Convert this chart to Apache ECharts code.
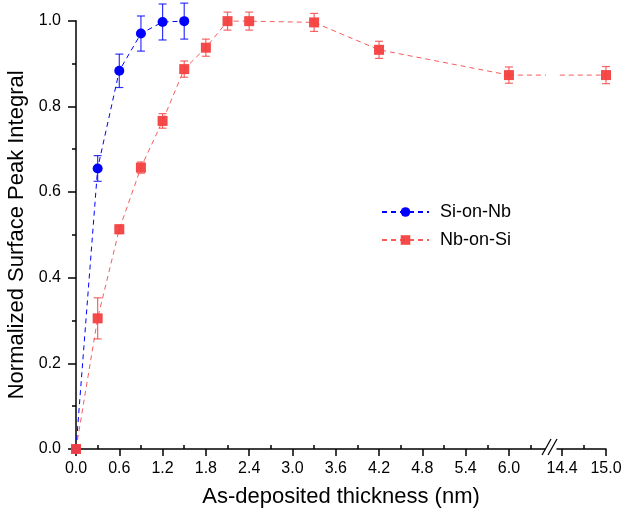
<!DOCTYPE html>
<html>
<head>
<meta charset="utf-8">
<script src="https://cdn.jsdelivr.net/npm/echarts@6/dist/echarts.min.js"></script>
<style>
  html, body { margin: 0; padding: 0; background: #fff; }
  #chart { width: 625px; height: 514px; }
</style>
</head>
<body>
<div id="chart"></div>
<script>
// Si-on-Nb (blue circles)
const thicknessSiOnNb = [0, 0.3, 0.6, 0.9, 1.2, 1.5];
const integralSiOnNb = [0, 0.655, 0.883, 0.970, 0.997, 0.999];
const errorSiOnNb = [0, 0.030, 0.039, 0.041, 0.042, 0.042];

// Nb-on-Si (red squares)
const thicknessNbOnSi = [0, 0.3, 0.6, 0.9, 1.2, 1.5, 1.8, 2.1, 2.4, 3.3, 4.2, 6.0, 15.0];
const integralNbOnSi = [0, 0.305, 0.513, 0.657, 0.766, 0.887, 0.937, 0.999, 0.999, 0.996, 0.932, 0.873, 0.873];
const errorNbOnSi = [0, 0.048, 0.010, 0.013, 0.017, 0.019, 0.020, 0.021, 0.021, 0.021, 0.020, 0.019, 0.020];

// axis ticks
const leftMajorTicks = [0, 0.6, 1.2, 1.8, 2.4, 3.0, 3.6, 4.2, 4.8, 5.4, 6.0];
const leftMinorTicks = [0.3, 0.9, 1.5, 2.1, 2.7, 3.3, 3.9, 4.5, 5.1, 5.7, 6.3];
const rightMajorTicks = [14.4, 15.0];
const rightMinorTicks = [14.7];

const BLUE = '#0000ff';
const RED = '#f44040';
const FONT = 'Liberation Sans, Arial, sans-serif';
const BREAK_AT = 6.5;   // left segment ends here
const RESUME_AT = 14.33; // right segment starts here

const pairs = (xs, ys) => xs.map((x, i) => [x, ys[i]]);
const errPairs = (xs, ys, es) => xs
  .map((x, i) => [x, ys[i] - es[i], ys[i] + es[i]])
  .filter((d, i) => es[i] > 0);

const siPoints = pairs(thicknessSiOnNb, integralSiOnNb);
const nbPoints = pairs(thicknessNbOnSi, integralNbOnSi);
const siErrors = errPairs(thicknessSiOnNb, integralSiOnNb, errorSiOnNb);
const nbErrors = errPairs(thicknessNbOnSi, integralNbOnSi, errorNbOnSi);
const nbLeft = nbPoints.filter((p) => p[0] <= BREAK_AT);
const nbRight = nbPoints.filter((p) => p[0] >= RESUME_AT);
const nbLeftErr = nbErrors.filter((p) => p[0] <= BREAK_AT);
const nbRightErr = nbErrors.filter((p) => p[0] >= RESUME_AT);
// segment crossing the axis break (last point left of break -> first right of it)
const nbBridge = [nbLeft[nbLeft.length - 1], nbRight[0]];

function renderErrorBar(params, api) {
  const x = api.value(0);
  const lo = api.coord([x, api.value(1)]);
  const hi = api.coord([x, api.value(2)]);
  const half = 4;
  const style = { stroke: api.visual('color'), lineWidth: 1.2, opacity: 0.8 };
  return {
    type: 'group',
    children: [
      { type: 'line', shape: { x1: lo[0], y1: lo[1], x2: hi[0], y2: hi[1] }, style },
      { type: 'line', shape: { x1: hi[0] - half, y1: hi[1], x2: hi[0] + half, y2: hi[1] }, style },
      { type: 'line', shape: { x1: lo[0] - half, y1: lo[1], x2: lo[0] + half, y2: lo[1] }, style }
    ]
  };
}

const axisLineStyle = { color: '#000', width: 1.5 };
const labelStyle = { color: '#000', fontSize: 16, fontFamily: FONT };

function xAxisFor(gridIndex, min, max, ticks, minor) {
  return [
    {
      type: 'value', gridIndex, min, max,
      axisLine: { show: true, onZero: false, lineStyle: axisLineStyle },
      axisTick: { show: true, length: 7, customValues: ticks, lineStyle: axisLineStyle },
      axisLabel: { ...labelStyle, margin: 12, customValues: ticks, formatter: (v) => v.toFixed(1) },
      splitLine: { show: false }
    },
    {
      type: 'value', gridIndex, min, max,
      axisLine: { show: false },
      axisTick: { show: true, length: 4, customValues: minor, lineStyle: axisLineStyle },
      axisLabel: { show: false },
      splitLine: { show: false }
    }
  ];
}

const chart = echarts.init(document.getElementById('chart'));
const option = {
  backgroundColor: '#fff',
  animation: false,
  textStyle: { fontFamily: FONT },
  grid: [
    { left: 76, top: 20.7, right: 80, bottom: 65, outerBoundsMode: 'none' },
    { left: 557, top: 20.7, right: 19, bottom: 65, outerBoundsMode: 'none' }
  ],
  xAxis: [
    ...xAxisFor(0, 0, BREAK_AT, leftMajorTicks, leftMinorTicks),
    ...xAxisFor(1, RESUME_AT, 15.0, rightMajorTicks, rightMinorTicks)
  ],
  yAxis: [
    {
      type: 'value', gridIndex: 0, min: 0, max: 1, interval: 0.2,
      name: 'Normalized Surface Peak Integral',
      nameLocation: 'middle',
      nameGap: 44,
      nameTextStyle: { color: '#000', fontSize: 22, fontFamily: FONT },
      axisLine: { show: true, onZero: false, lineStyle: axisLineStyle },
      axisTick: { show: true, length: 8, lineStyle: axisLineStyle },
      minorTick: { show: true, splitNumber: 2, length: 4, lineStyle: axisLineStyle },
      axisLabel: { ...labelStyle, margin: 15, formatter: (v) => v.toFixed(1) },
      splitLine: { show: false }
    },
    { type: 'value', gridIndex: 1, min: 0, max: 1, show: false }
  ],
  legend: {
    orient: 'vertical',
    left: 381,
    top: 203,
    padding: 0,
    itemWidth: 47,
    itemHeight: 12,
    itemGap: 10,
    data: ['Si-on-Nb', 'Nb-on-Si'],
    textStyle: { color: '#000', fontSize: 18, fontFamily: FONT, padding: [0, 0, 0, 6] }
  },
  graphic: [
    {
      type: 'text',
      style: {
        text: 'As-deposited thickness (nm)',
        x: 341, y: 497,
        textAlign: 'center', textVerticalAlign: 'middle',
        fontSize: 22, fontFamily: FONT, fill: '#000'
      }
    },
    { type: 'line', shape: { x1: 542, y1: 455, x2: 551, y2: 439 }, style: { stroke: '#000', lineWidth: 1.3 } },
    { type: 'line', shape: { x1: 548, y1: 455, x2: 557, y2: 439 }, style: { stroke: '#000', lineWidth: 1.3 } }
  ],
  series: [
    {
      type: 'custom', name: 'Si-on-Nb err', xAxisIndex: 0, yAxisIndex: 0,
      renderItem: renderErrorBar, itemStyle: { color: BLUE }, data: siErrors, z: 3
    },
    {
      type: 'custom', name: 'Nb-on-Si err', xAxisIndex: 0, yAxisIndex: 0,
      renderItem: renderErrorBar, itemStyle: { color: RED }, data: nbLeftErr, z: 3
    },
    {
      type: 'custom', name: 'Nb-on-Si err', xAxisIndex: 2, yAxisIndex: 1,
      renderItem: renderErrorBar, itemStyle: { color: RED }, data: nbRightErr, z: 3
    },
    {
      type: 'line', name: 'Si-on-Nb', xAxisIndex: 0, yAxisIndex: 0,
      data: siPoints, clip: false, z: 4,
      symbol: 'circle', symbolSize: 10,
      itemStyle: { color: BLUE },
      lineStyle: { color: BLUE, width: 1, type: [5, 4] }
    },
    {
      type: 'line', name: 'Nb-on-Si', xAxisIndex: 0, yAxisIndex: 0,
      data: nbLeft, clip: false, z: 5,
      symbol: 'rect', symbolSize: 10,
      itemStyle: { color: RED, opacity: 0.95 },
      lineStyle: { color: RED, width: 1, opacity: 0.85, type: [5, 4] }
    },
    {
      type: 'line', name: 'Nb-on-Si', xAxisIndex: 2, yAxisIndex: 1,
      data: nbRight, clip: false, z: 5,
      symbol: 'rect', symbolSize: 10,
      itemStyle: { color: RED, opacity: 0.95 },
      lineStyle: { color: RED, width: 1, opacity: 0.85, type: [5, 4] }
    },
    {
      type: 'line', xAxisIndex: 0, yAxisIndex: 0, data: nbBridge, clip: true, z: 4,
      symbol: 'none', silent: true,
      lineStyle: { color: RED, width: 1, opacity: 0.85, type: [5, 4] }
    },
    {
      type: 'line', xAxisIndex: 2, yAxisIndex: 1, data: nbBridge, clip: true, z: 4,
      symbol: 'none', silent: true,
      lineStyle: { color: RED, width: 1, opacity: 0.85, type: [5, 4] }
    }
  ]
};
chart.setOption(option);
</script>
</body>
</html>
